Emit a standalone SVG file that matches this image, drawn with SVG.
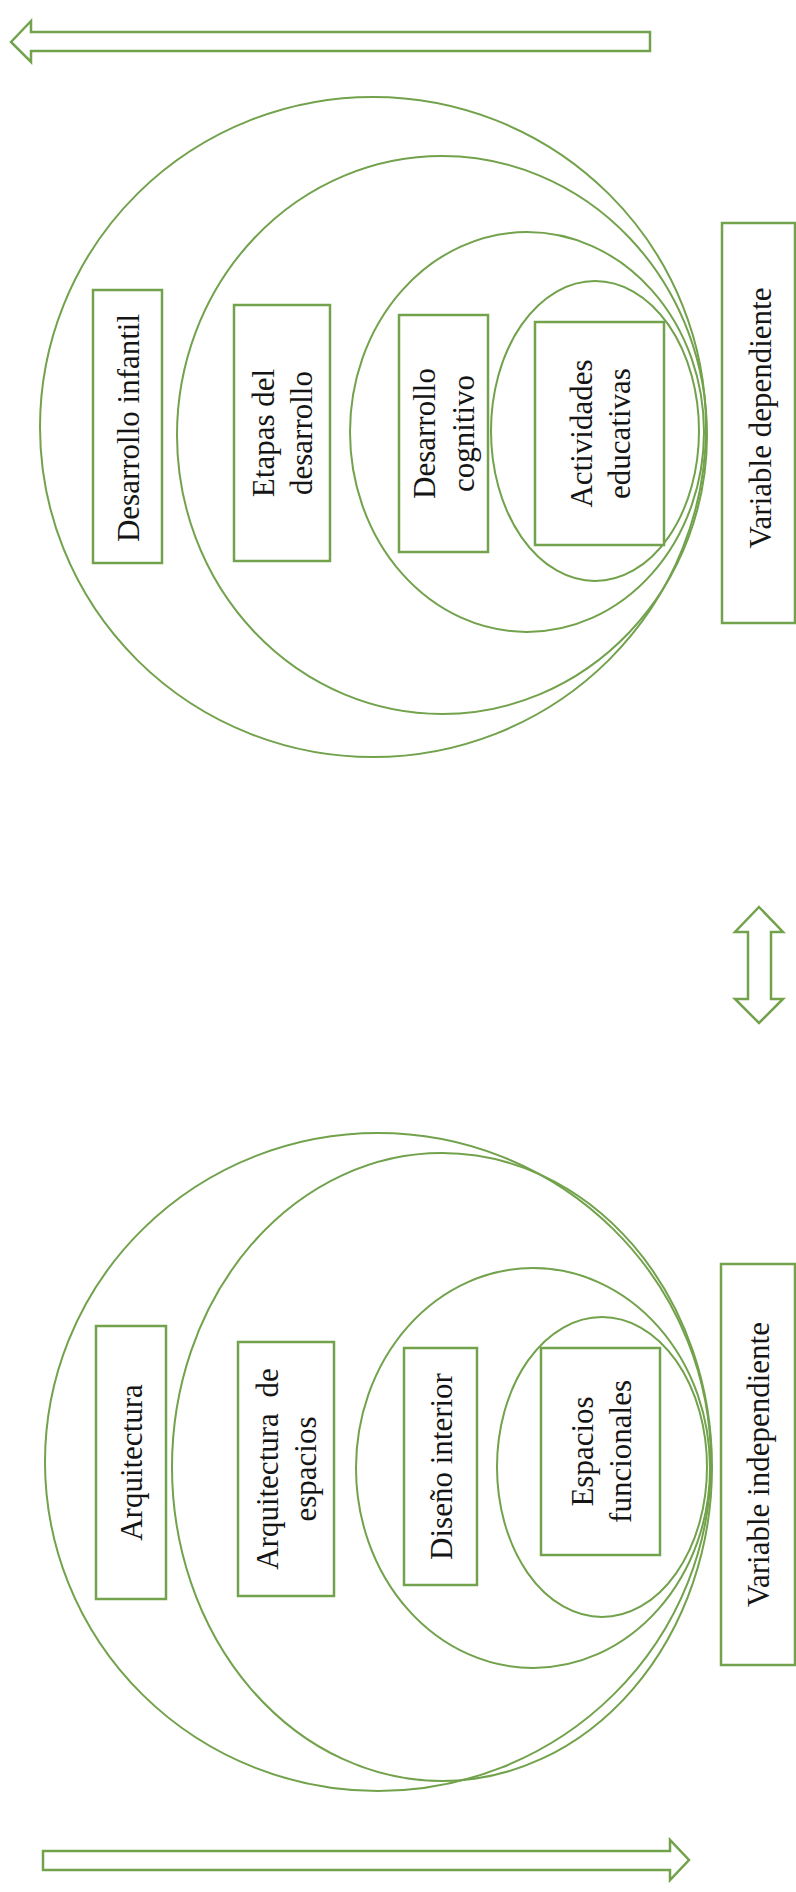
<svg xmlns="http://www.w3.org/2000/svg" width="796" height="1892" viewBox="0 0 796 1892">
<style>
.ell{fill:none;stroke:#72a24c;stroke-width:2}
.box{fill:#ffffff;stroke:#72a24c;stroke-width:2.5}
.arr{fill:#ffffff;stroke:#72a24c;stroke-width:2.5;stroke-linejoin:miter}
.t{font-family:"Liberation Serif","Times New Roman",serif;font-size:31px;fill:#151515;text-anchor:middle}
</style>
<rect width="796" height="1892" fill="#ffffff"/>
<g id="ellipses-top">
<ellipse class="ell" cx="373" cy="427" rx="333" ry="330"/>
<ellipse class="ell" cx="442" cy="435" rx="265" ry="279"/>
<ellipse class="ell" cx="527" cy="432" rx="177" ry="200"/>
<ellipse class="ell" cx="595" cy="431" rx="104" ry="150"/>
</g>
<g id="ellipses-bottom">
<ellipse class="ell" cx="378" cy="1462" rx="333" ry="329"/>
<ellipse class="ell" cx="442" cy="1467" rx="270" ry="314"/>
<ellipse class="ell" cx="533" cy="1468" rx="177" ry="200"/>
<ellipse class="ell" cx="602" cy="1467" rx="105" ry="150"/>
</g>
<g id="connectors">
<polygon id="arrow-top" class="arr" points="11,42 31,21 31,32 650,32 650,51 31,51 31,62"/>
<polygon id="arrow-both" class="arr" points="759,907 783,932 771,932 771,999 783,999 759,1023 735,999 748,999 748,932 735,932"/>
<polygon id="arrow-bottom" class="arr" points="43,1851 670,1851 670,1840 689,1860 670,1880 670,1870 43,1870"/>
</g>
<g id="desarrollo-infantil">
<rect class="box" x="93" y="290" width="69" height="273"/>
<text class="t" transform="translate(127.5,428) rotate(-90)" y="11">Desarrollo infantil</text>
</g>
<g id="etapas-desarrollo">
<rect class="box" x="234" y="305" width="96" height="256"/>
<text class="t" transform="translate(282,433) rotate(-90)"><tspan x="0" y="-8">Etapas del</tspan><tspan x="0" y="30">desarrollo</tspan></text>
</g>
<g id="desarrollo-cognitivo">
<rect class="box" x="399" y="315" width="89" height="237"/>
<text class="t" transform="translate(443.5,433.5) rotate(-90)"><tspan x="0" y="-9">Desarrollo</tspan><tspan x="0" y="30">cognitivo</tspan></text>
</g>
<g id="actividades-educativas">
<rect class="box" x="535" y="322" width="129" height="223"/>
<text class="t" transform="translate(599.5,433.5) rotate(-90)"><tspan x="0" y="-8">Actividades</tspan><tspan x="0" y="30">educativas</tspan></text>
</g>
<g id="variable-dependiente">
<rect class="box" x="722" y="223" width="73" height="400"/>
<text class="t" transform="translate(758.5,418) rotate(-90)" y="12" font-size="34">Variable dependiente</text>
</g>
<g id="arquitectura">
<rect class="box" x="96" y="1326" width="70" height="273"/>
<text class="t" transform="translate(131,1462.5) rotate(-90)" y="11">Arquitectura</text>
</g>
<g id="arquitectura-espacios">
<rect class="box" x="238" y="1342" width="96" height="254"/>
<text class="t" transform="translate(286,1469) rotate(-90)"><tspan x="0" y="-8" word-spacing="8">Arquitectura de</tspan><tspan x="0" y="30">espacios</tspan></text>
</g>
<g id="diseno-interior">
<rect class="box" x="404" y="1348" width="73" height="237"/>
<text class="t" transform="translate(440.5,1466.5) rotate(-90)" y="11">Diseño interior</text>
</g>
<g id="espacios-funcionales">
<rect class="box" x="541" y="1348" width="119" height="207"/>
<text class="t" transform="translate(600.5,1451.5) rotate(-90)"><tspan x="0" y="-8">Espacios</tspan><tspan x="0" y="30">funcionales</tspan></text>
</g>
<g id="variable-independiente">
<rect class="box" x="721" y="1264" width="74" height="401"/>
<text class="t" transform="translate(758,1464.5) rotate(-90)" y="11">Variable independiente</text>
</g>
</svg>
